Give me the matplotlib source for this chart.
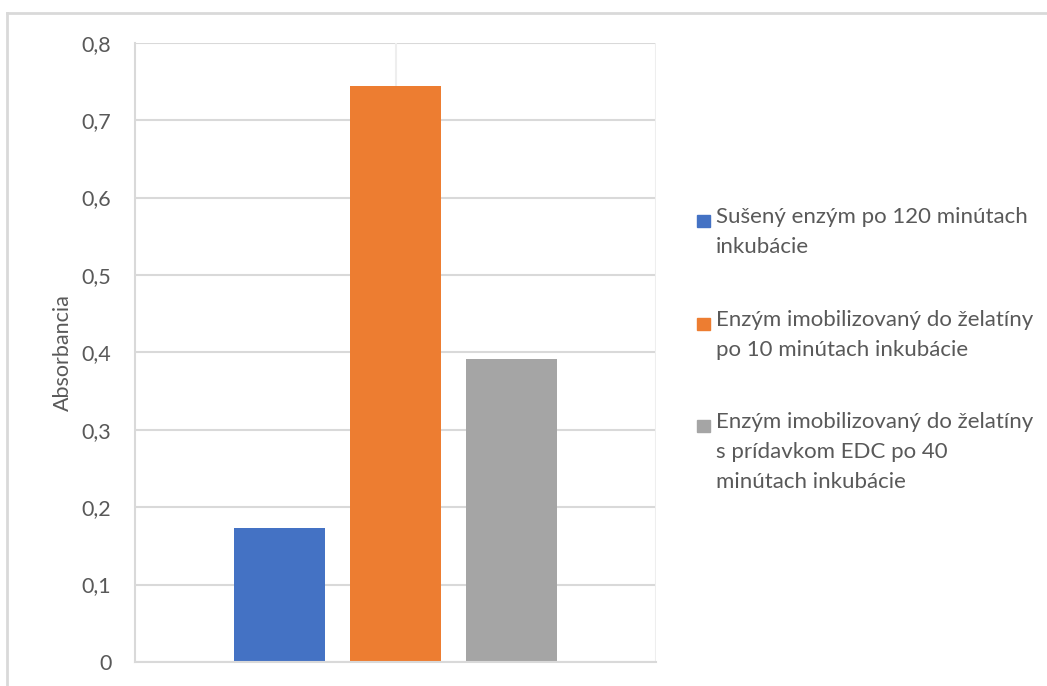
import matplotlib.pyplot as plt
from matplotlib.lines import Line2D
from matplotlib.patches import Rectangle

# absorbance values for the three samples
series_labels = [
    "Sušený enzým po 120 minútach\ninkubácie",
    "Enzým imobilizovaný do želatíny\npo 10 minútach inkubácie",
    "Enzým imobilizovaný do želatíny\ns prídavkom EDC po 40\nminútach inkubácie",
]
absorbance = [0.173, 0.744, 0.392]
bar_colors = ["#4472C4", "#ED7D31", "#A5A5A5"]
y_ticks = [0, 0.1, 0.2, 0.3, 0.4, 0.5, 0.6, 0.7, 0.8]
y_tick_labels = ["0", "0,1", "0,2", "0,3", "0,4", "0,5", "0,6", "0,7", "0,8"]

plt.rcParams['font.family'] = ['Lato', 'DejaVu Sans']
text_color = "#595959"
grid_color = "#d9d9d9"

fig = plt.figure(figsize=(10.47, 6.86), dpi=100)
ax = fig.add_axes([135 / 1047, 1 - 662 / 686, 521 / 1047, (662 - 42.7) / 686])

positions = list(range(len(absorbance)))
bars = ax.bar(positions, absorbance, width=0.785, color=bar_colors, zorder=3)

ax.set_xlim(-1.246, 3.246)
ax.set_ylim(0, 0.8)
ax.set_yticks(y_ticks)
ax.set_yticklabels(y_tick_labels)
ax.set_xticks([])
ax.tick_params(axis='y', length=0, pad=17, labelsize=15.5, labelcolor=text_color)

ax.yaxis.grid(True, color=grid_color, linewidth=1.5, zorder=0)
ax.set_axisbelow(True)
for side in ['top', 'right']:
    ax.spines[side].set_visible(False)
ax.spines['bottom'].set_color(grid_color)
ax.spines['bottom'].set_linewidth(1.5)
ax.spines['bottom'].set_zorder(4)
ax.spines['left'].set_color(grid_color)
ax.spines['left'].set_linewidth(1.5)

# faint vertical lines at the middle and right of the plot area
ax.axvline(1, color="#eeeeee", linewidth=1.5, zorder=1)
ax.axvline(3.246, color="#eeeeee", linewidth=1.5, zorder=1)

ax.set_ylabel("Absorbancia", fontsize=15.5, color=text_color, labelpad=6)

# legend drawn by hand so the swatch sits at the first line of each label
legend_tops = [212, 315, 417]
for label, color, top in zip(series_labels, bar_colors, legend_tops):
    fig.patches.append(Rectangle((697 / 1047, 1 - (top + 15) / 686), 13 / 1047, 12 / 686,
                                 transform=fig.transFigure, color=color))
    fig.text(716 / 1047, 1 - (top - 5) / 686, label, fontsize=16, color=text_color,
             va='top', ha='left', linespacing=1.62)

# chart frame (top and left edges)
fig.add_artist(Line2D([7 / 1047, 1], [1 - 12.5 / 686, 1 - 12.5 / 686],
                      transform=fig.transFigure, color=grid_color, linewidth=2))
fig.add_artist(Line2D([7 / 1047, 7 / 1047], [0, 1 - 12.5 / 686],
                      transform=fig.transFigure, color=grid_color, linewidth=2))

fig.savefig("out.png", dpi=100)
